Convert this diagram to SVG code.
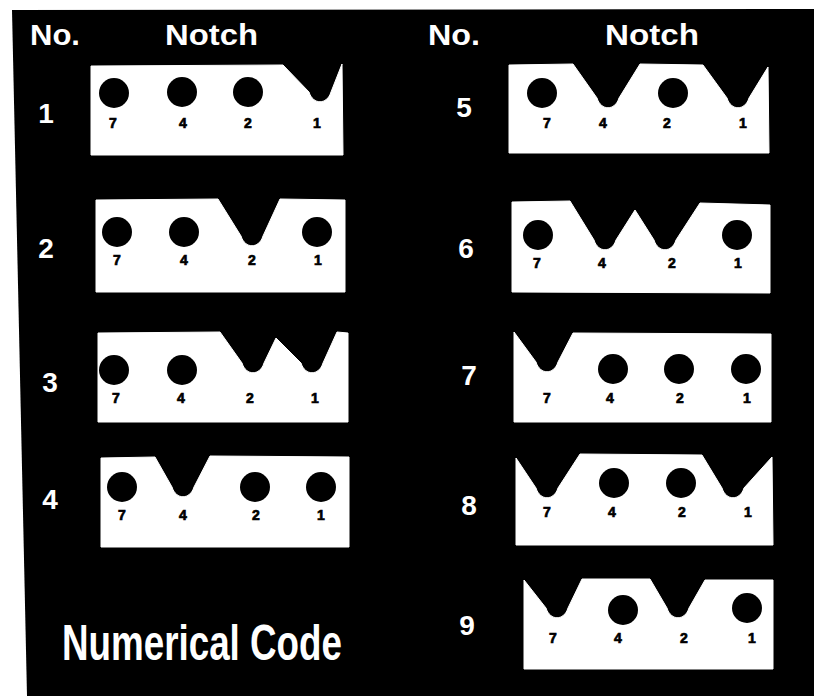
<svg xmlns="http://www.w3.org/2000/svg" width="814" height="696" viewBox="0 0 814 696">
<defs>
<style>
.card{fill:#fff;stroke:#fff;stroke-width:1;stroke-linejoin:round}
.hole{fill:#000}
.lbl{font-family:"Liberation Sans",Arial,sans-serif;font-weight:bold;font-size:14px;fill:#000;stroke:#000;stroke-width:0.7;text-anchor:middle}
.num{font-family:"Liberation Sans",Arial,sans-serif;font-weight:bold;font-size:28px;fill:#fff;text-anchor:middle}
.hdr{font-family:"Liberation Sans",Arial,sans-serif;font-weight:bold;font-size:29px;fill:#fff}
.title{font-family:"Liberation Sans Narrow","Liberation Sans",Arial,sans-serif;font-weight:bold;font-size:50px;fill:#fff}
</style>
</defs>
<rect x="0" y="0" width="814" height="696" fill="#fff"/>
<polygon points="12,10 814,9 814,696 27,696" fill="#000"/>

<g id="headers">
<text class="hdr" x="30" y="45" textLength="50" lengthAdjust="spacingAndGlyphs">No.</text>
<text class="hdr" x="165" y="45" textLength="93" lengthAdjust="spacingAndGlyphs">Notch</text>
<text class="hdr" x="428" y="45" textLength="52" lengthAdjust="spacingAndGlyphs">No.</text>
<text class="hdr" x="605" y="45" textLength="94" lengthAdjust="spacingAndGlyphs">Notch</text>
</g>

<g id="card1">
<text class="num" x="46" y="123">1</text>
<path class="card" d="M91,66 L283,65 L309,92 C313,105 327,105 331,92 L342,64 L343,155 L91,155 Z"/>
<circle class="hole" cx="114" cy="93" r="15"/>
<circle class="hole" cx="182" cy="92" r="15"/>
<circle class="hole" cx="248" cy="92" r="15"/>
<text class="lbl" x="113" y="128">7</text>
<text class="lbl" x="183" y="128">4</text>
<text class="lbl" x="248" y="128">2</text>
<text class="lbl" x="317" y="128">1</text>
</g>

<g id="card2">
<text class="num" x="46" y="258">2</text>
<path class="card" d="M96,200 L218,199 L241,236 C245,249 259,249 263,236 L280,199 L345,200 L345,292 L96,292 Z"/>
<circle class="hole" cx="117" cy="232" r="15"/>
<circle class="hole" cx="184" cy="232" r="15"/>
<circle class="hole" cx="317" cy="232" r="15"/>
<text class="lbl" x="117" y="265">7</text>
<text class="lbl" x="184" y="265">4</text>
<text class="lbl" x="252" y="265">2</text>
<text class="lbl" x="318" y="265">1</text>
</g>

<g id="card3">
<text class="num" x="50" y="392">3</text>
<path class="card" d="M98,333 L220,332 L242,363 C246,376 260,376 264,363 L276,338 L301,363 C305,376 319,376 323,363 L337,332 L348,333 L348,422 L98,422 Z"/>
<circle class="hole" cx="114" cy="370" r="15"/>
<circle class="hole" cx="182" cy="370" r="15"/>
<text class="lbl" x="116" y="403">7</text>
<text class="lbl" x="181" y="403">4</text>
<text class="lbl" x="250" y="403">2</text>
<text class="lbl" x="315" y="403">1</text>
</g>

<g id="card4">
<text class="num" x="50" y="509">4</text>
<path class="card" d="M101,458 L155,457 L172,487 C176,500 190,500 194,487 L210,456 L349,457 L349,547 L101,547 Z"/>
<circle class="hole" cx="122" cy="487" r="15"/>
<circle class="hole" cx="255" cy="487" r="15"/>
<circle class="hole" cx="321" cy="487" r="15"/>
<text class="lbl" x="122" y="520">7</text>
<text class="lbl" x="183" y="520">4</text>
<text class="lbl" x="256" y="520">2</text>
<text class="lbl" x="321" y="520">1</text>
</g>

<g id="card5">
<text class="num" x="464" y="117">5</text>
<path class="card" d="M509,65 L573,64 L597,98 C601,111 615,111 619,98 L640,64 L703,65 L727,98 C731,111 745,111 749,98 L768,67 L769,153 L509,153 Z"/>
<circle class="hole" cx="542" cy="93" r="15"/>
<circle class="hole" cx="673" cy="93" r="15"/>
<text class="lbl" x="547" y="128">7</text>
<text class="lbl" x="603" y="128">4</text>
<text class="lbl" x="667" y="128">2</text>
<text class="lbl" x="743" y="128">1</text>
</g>

<g id="card6">
<text class="num" x="466" y="258">6</text>
<path class="card" d="M512,202 L570,201 L594,240 C598,253 612,253 616,240 L635,210 L654,240 C658,253 672,253 676,240 L700,203 L770,205 L770,293 L512,292 Z"/>
<circle class="hole" cx="538" cy="235" r="15"/>
<circle class="hole" cx="737" cy="235" r="15"/>
<text class="lbl" x="537" y="268">7</text>
<text class="lbl" x="602" y="268">4</text>
<text class="lbl" x="672" y="268">2</text>
<text class="lbl" x="738" y="268">1</text>
</g>

<g id="card7">
<text class="num" x="469" y="385">7</text>
<path class="card" d="M514,332 L536,362 C540,375 554,375 558,362 L573,333 L771,334 L771,422 L514,422 Z"/>
<circle class="hole" cx="613" cy="369" r="15"/>
<circle class="hole" cx="679" cy="369" r="15"/>
<circle class="hole" cx="746" cy="369" r="15"/>
<text class="lbl" x="547" y="403">7</text>
<text class="lbl" x="610" y="403">4</text>
<text class="lbl" x="680" y="403">2</text>
<text class="lbl" x="747" y="403">1</text>
</g>

<g id="card8">
<text class="num" x="469" y="515">8</text>
<path class="card" d="M516,458 L536,488 C540,501 554,501 558,488 L580,454 L702,455 L722,488 C726,501 740,501 744,488 L772,457 L773,545 L516,545 Z"/>
<circle class="hole" cx="614" cy="483" r="15"/>
<circle class="hole" cx="681" cy="483" r="15"/>
<text class="lbl" x="547" y="517">7</text>
<text class="lbl" x="612" y="517">4</text>
<text class="lbl" x="682" y="517">2</text>
<text class="lbl" x="748" y="517">1</text>
</g>

<g id="card9">
<text class="num" x="467" y="635">9</text>
<path class="card" d="M524,580 L546,608 C550,621 564,621 568,608 L582,579 L650,579 L667,608 C671,621 685,621 689,608 L705,580 L773,580 L773,669 L524,669 Z"/>
<circle class="hole" cx="623" cy="610" r="15"/>
<circle class="hole" cx="747" cy="608" r="15"/>
<text class="lbl" x="553" y="643">7</text>
<text class="lbl" x="618" y="643">4</text>
<text class="lbl" x="684" y="643">2</text>
<text class="lbl" x="752" y="643">1</text>
</g>

<g id="title">
<text class="title" x="62" y="660" textLength="280" lengthAdjust="spacingAndGlyphs">Numerical Code</text>
</g>
<g id="connectors"/>
</svg>
